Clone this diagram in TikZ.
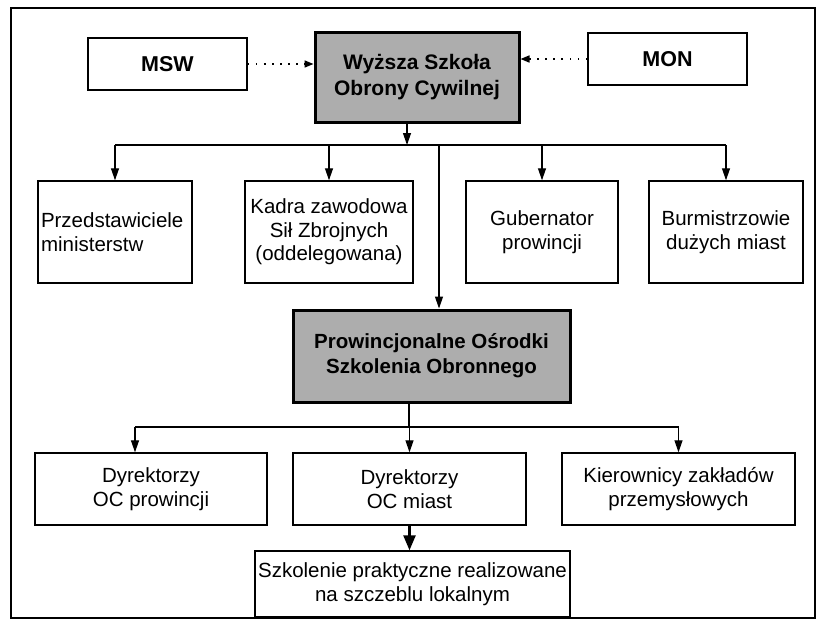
\documentclass[tikz,border=0pt]{standalone}
\usepackage{fontspec}
\setmainfont{Liberation Sans}
\usetikzlibrary{arrows.meta}

\begin{document}
\begin{tikzpicture}[x=1pt, y=-1pt,
  box/.style={draw, line width=1.4pt, align=center, inner sep=3pt,
    font=\fontsize{20.5}{23.5}\selectfont},
  greybox/.style={box, fill=black!32, line width=3pt,
    font=\fontsize{21}{25.5}\selectfont\bfseries},
  arr/.style={line width=1.2pt, -{Triangle[length=12pt, width=8pt]}},
  bigarr/.style={line width=2.5pt, -{Triangle[length=15pt, width=12pt]}},
  dotarr/.style={line width=1.6pt, dash pattern=on 1.6pt off 6.5pt, -{Triangle[length=9pt, width=7pt]}}]
\useasboundingbox (0,0) rectangle (817,624);
\draw[line width=1.5pt] (11,8) rectangle (815,618);

% top level
\node[greybox, minimum width=204pt, minimum height=90pt] (wsoc) at (417,77) {Wyższa Szkoła\\Obrony Cywilnej};
\node[box, minimum width=159pt, minimum height=52pt, font=\fontsize{21.5}{25}\selectfont\bfseries] (msw) at (167.5,64) {MSW};
\node[box, minimum width=159pt, minimum height=52pt, font=\fontsize{21.5}{25}\selectfont\bfseries] (mon) at (667.5,59) {MON};
\draw[dotarr] (msw.east) -- (msw.east -| wsoc.west);
\draw[dotarr] (mon.west) -- (mon.west -| wsoc.east);

% second level
\node[box, minimum width=154pt, minimum height=102pt, align=left, text width=148pt] (przed) at (115,232) {Przedstawiciele\\ministerstw};
\node[box, minimum width=168pt, minimum height=102pt] (kadra) at (329,232) {Kadra zawodowa\\Sił Zbrojnych\\(oddelegowana)};
\node[box, minimum width=152pt, minimum height=102pt] (guber) at (542,232) {Gubernator\\prowincji};
\node[box, minimum width=154pt, minimum height=102pt] (burm) at (726,232) {Burmistrzowie\\dużych miast};
\node[greybox, minimum width=277pt, minimum height=92pt, font=\fontsize{20.5}{25}\selectfont\bfseries] (pos) at (431.5,356) {Prowincjonalne Ośrodki\\Szkolenia Obronnego};

\coordinate (topbus) at (407,145);
\coordinate (posin) at (439,145);
\draw[arr] (wsoc.south -| topbus) -- (topbus);
\draw[line width=1.2pt] (przed.north |- topbus) -- (burm.north |- topbus);
\foreach \n in {przed, kadra, guber, burm}
  \draw[arr] (\n.north |- topbus) -- (\n.north);
\draw[arr] (posin) -- (posin |- pos.north);

% third level
\node[box, minimum width=232pt, minimum height=72pt] (dirprov) at (151,489) {Dyrektorzy\\OC prowincji};
\node[box, minimum width=233pt, minimum height=72pt] (dirmiast) at (409.5,489) {Dyrektorzy\\OC miast};
\node[box, minimum width=233pt, minimum height=72pt] (kier) at (678.5,489) {Kierownicy zakładów\\przemysłowych};
\node[box, minimum width=315pt, minimum height=66pt] (szkol) at (412.5,584) {Szkolenie praktyczne realizowane\\na szczeblu lokalnym};

\coordinate (lowbus) at (409,427);
\draw[line width=1.2pt] (pos.south -| lowbus) -- (lowbus);
\draw[line width=1.2pt] ([xshift=-16pt]dirprov.north |- lowbus) -- (kier.north |- lowbus);
\draw[arr] ([xshift=-16pt]dirprov.north |- lowbus) -- ([xshift=-16pt]dirprov.north);
\draw[arr] (dirmiast.north |- lowbus) -- (dirmiast.north);
\draw[arr] (kier.north |- lowbus) -- (kier.north);
\draw[bigarr] (dirmiast.south) -- (dirmiast.south |- szkol.north);
\end{tikzpicture}
\end{document}
